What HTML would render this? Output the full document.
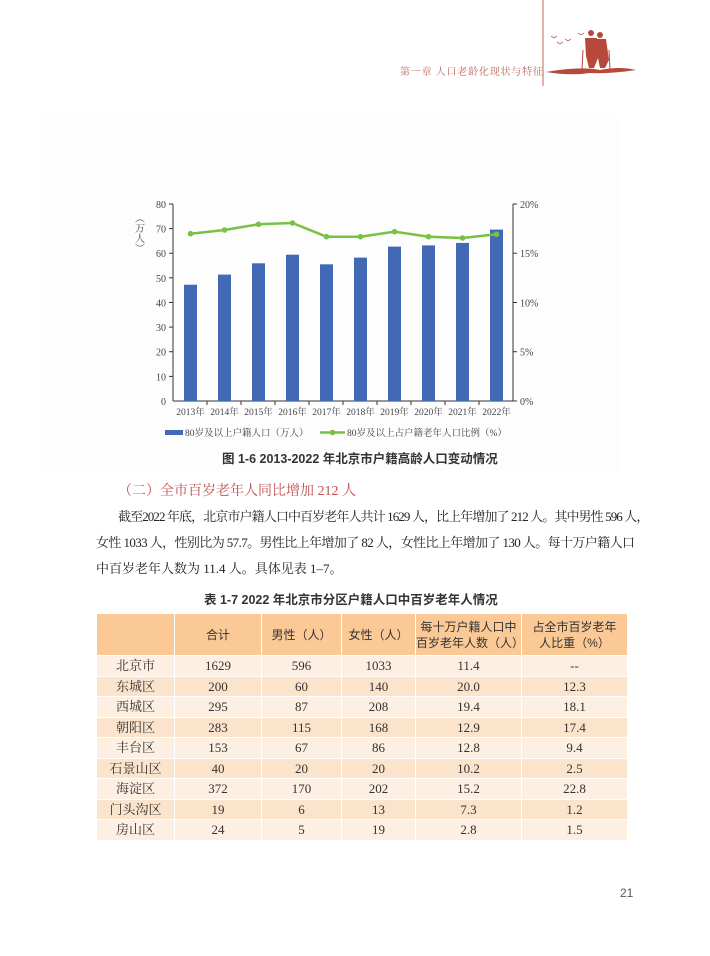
<!DOCTYPE html>
<html><head><meta charset="utf-8"><style>
body{margin:0;width:710px;height:956px;background:#fff;position:relative;overflow:hidden;font-family:"Liberation Serif","Noto Serif CJK SC",serif;}
.abs{position:absolute;white-space:nowrap;}
table{position:absolute;left:96px;top:613px;width:531px;border-collapse:collapse;font-size:13px;color:#333;table-layout:fixed;}
td{border:1px solid #fff;text-align:center;padding:0;height:19.5px;line-height:19px;}
tr.h td{background:#fbc996;height:41px;line-height:16px;font-family:"Liberation Sans","Noto Sans CJK SC",sans-serif;font-size:12px;white-space:nowrap;}
tr.a td{background:#fdf0e2;}
tr.b td{background:#fce4cc;}
.p{font-size:13px;color:#222;text-align:justify;text-align-last:justify;white-space:nowrap;letter-spacing:-0.6px;}
</style></head><body>
<svg class="abs" style="left:0;top:0" width="710" height="956">
<line x1="543" y1="0" x2="543" y2="86" stroke="#c0645a" stroke-width="1"/>
<g fill="#b9483c">
<path d="M546 72 Q580 66 600 70 Q620 66 636 70 Q610 74 590 73 Q570 76 546 72Z"/>
<circle cx="591" cy="33" r="3"/><circle cx="600" cy="35" r="3"/>
<path d="M585 38 L597 38 L598 58 L594 68 L589 68 L586 56Z"/>
<path d="M596 39 L606 39 L609 60 L605 68 L600 68 L598 58Z"/>
<line x1="583" y1="50" x2="582" y2="70" stroke="#b9483c"/><line x1="609" y1="50" x2="610" y2="70" stroke="#b9483c"/>
</g>
<g stroke="#c0645a" fill="none" stroke-width="0.8">
<path d="M551 36 l3 2 l3 -2"/><path d="M557 42 l3 2 l3 -2"/><path d="M565 39 l3 2 l3 -2"/><path d="M578 33 l3 2 l3 -2"/>
</g>
<text x="400" y="75" font-size="10" fill="#c0645a" font-family="Liberation Serif,Noto Serif CJK SC,serif" letter-spacing="0.8">第一章  人口老龄化现状与特征</text>
<rect x="40" y="118" width="580" height="352" fill="#fdfdfd"/>
<g font-family="Liberation Serif,Noto Serif CJK SC,serif" font-size="10" fill="#444">
<line x1="173" y1="204" x2="173" y2="401" stroke="#333"/>
<line x1="513" y1="204" x2="513" y2="401" stroke="#333"/>
<line x1="173" y1="401" x2="513" y2="401" stroke="#333"/>
<g stroke="#333">
<line x1="169" y1="204" x2="173" y2="204"/><line x1="169" y1="228.6" x2="173" y2="228.6"/><line x1="169" y1="253.2" x2="173" y2="253.2"/><line x1="169" y1="277.8" x2="173" y2="277.8"/><line x1="169" y1="302.5" x2="173" y2="302.5"/><line x1="169" y1="327.1" x2="173" y2="327.1"/><line x1="169" y1="351.7" x2="173" y2="351.7"/><line x1="169" y1="376.4" x2="173" y2="376.4"/>
<line x1="513" y1="204" x2="517" y2="204"/><line x1="513" y1="253.2" x2="517" y2="253.2"/><line x1="513" y1="302.5" x2="517" y2="302.5"/><line x1="513" y1="351.7" x2="517" y2="351.7"/><line x1="513" y1="401" x2="517" y2="401"/>
<line x1="207" y1="401" x2="207" y2="405"/><line x1="241" y1="401" x2="241" y2="405"/><line x1="275" y1="401" x2="275" y2="405"/><line x1="309" y1="401" x2="309" y2="405"/><line x1="343" y1="401" x2="343" y2="405"/><line x1="377" y1="401" x2="377" y2="405"/><line x1="411" y1="401" x2="411" y2="405"/><line x1="445" y1="401" x2="445" y2="405"/><line x1="479" y1="401" x2="479" y2="405"/>
</g>
<g text-anchor="end">
<text x="166" y="208">80</text><text x="166" y="232.6">70</text><text x="166" y="257.2">60</text><text x="166" y="281.8">50</text><text x="166" y="306.5">40</text><text x="166" y="331.1">30</text><text x="166" y="355.7">20</text><text x="166" y="380.4">10</text><text x="166" y="405">0</text>
</g>
<text x="520" y="208">20%</text><text x="520" y="257.2">15%</text><text x="520" y="306.5">10%</text><text x="520" y="355.7">5%</text><text x="520" y="405">0%</text>
<text x="138" y="213" font-size="10" writing-mode="tb">（万人）</text>
<g fill="#4169b5">
<rect x="184" y="284.7" width="13" height="116.3"/>
<rect x="218" y="274.6" width="13" height="126.4"/>
<rect x="252" y="263.3" width="13" height="137.7"/>
<rect x="286" y="254.7" width="13" height="146.3"/>
<rect x="320" y="264.3" width="13" height="136.7"/>
<rect x="354" y="257.6" width="13" height="143.4"/>
<rect x="388" y="246.6" width="13" height="154.4"/>
<rect x="422" y="245.4" width="13" height="155.6"/>
<rect x="456" y="242.9" width="13" height="158.1"/>
<rect x="490" y="229.6" width="13" height="171.4"/>
</g>
<polyline fill="none" stroke="#7ac143" stroke-width="2.5" points="190.5,233.7 224.5,230 258.5,224.3 292.5,223 326.5,236.7 360.5,236.7 394.5,231.7 428.5,236.7 462.5,238 496.5,234.3"/>
<g fill="#7ac143"><circle cx="190.5" cy="233.7" r="2.8"/><circle cx="224.5" cy="230" r="2.8"/><circle cx="258.5" cy="224.3" r="2.8"/><circle cx="292.5" cy="223" r="2.8"/><circle cx="326.5" cy="236.7" r="2.8"/><circle cx="360.5" cy="236.7" r="2.8"/><circle cx="394.5" cy="231.7" r="2.8"/><circle cx="428.5" cy="236.7" r="2.8"/><circle cx="462.5" cy="238" r="2.8"/><circle cx="496.5" cy="234.3" r="2.8"/></g>
<g text-anchor="middle" font-size="9.5">
<text x="190.5" y="415">2013年</text><text x="224.5" y="415">2014年</text><text x="258.5" y="415">2015年</text><text x="292.5" y="415">2016年</text><text x="326.5" y="415">2017年</text><text x="360.5" y="415">2018年</text><text x="394.5" y="415">2019年</text><text x="428.5" y="415">2020年</text><text x="462.5" y="415">2021年</text><text x="496.5" y="415">2022年</text>
</g>
<rect x="165" y="430" width="18" height="5" fill="#4169b5"/>
<text x="185" y="436" font-size="9.5">80岁及以上户籍人口（万人）</text>
<line x1="320" y1="432.5" x2="345" y2="432.5" stroke="#7ac143" stroke-width="2.5"/><circle cx="332.5" cy="432.5" r="2.8" fill="#7ac143"/>
<text x="347" y="436" font-size="9.5">80岁及以上占户籍老年人口比例（%）</text>
</g>
<text x="222" y="463" font-size="12.5" font-weight="bold" fill="#333" font-family="Liberation Sans,Noto Sans CJK SC,sans-serif">图 1-6   2013-2022 年北京市户籍高龄人口变动情况</text>
<text x="204" y="604" font-size="12.5" font-weight="bold" fill="#333" font-family="Liberation Sans,Noto Sans CJK SC,sans-serif">表 1-7    2022 年北京市分区户籍人口中百岁老年人情况</text>
<text x="620" y="897" font-size="12" fill="#555" font-family="Liberation Sans,sans-serif">21</text>
</svg>
<div class="abs" style="left:118px;top:480px;font-size:14px;color:#c0504d;">（二）全市百岁老年人同比增加 212 人</div>
<div class="abs p" style="left:118px;top:506px;width:509px;letter-spacing:-0.9px;">截至2022 年底，北京市户籍人口中百岁老年人共计 1629 人，比上年增加了 212 人。其中男性 596 人，</div>
<div class="abs p" style="left:96px;top:532px;width:531px;">女性 1033 人，性别比为 57.7。男性比上年增加了 82 人，女性比上年增加了 130 人。每十万户籍人口</div>
<div class="abs" style="left:96px;top:558px;font-size:13px;color:#222;">中百岁老年人数为 11.4 人。具体见表 1–7。</div>
<table>
<colgroup><col style="width:78px"><col style="width:87px"><col style="width:80px"><col style="width:74px"><col style="width:106px"><col style="width:106px"></colgroup>
<tr class="h"><td></td><td>合计</td><td>男性（人）</td><td>女性（人）</td><td>每十万户籍人口中<br>百岁老年人数（人）</td><td>占全市百岁老年<br>人比重（%）</td></tr>
<tr class="a"><td>北京市</td><td>1629</td><td>596</td><td>1033</td><td>11.4</td><td>--</td></tr>
<tr class="b"><td>东城区</td><td>200</td><td>60</td><td>140</td><td>20.0</td><td>12.3</td></tr>
<tr class="a"><td>西城区</td><td>295</td><td>87</td><td>208</td><td>19.4</td><td>18.1</td></tr>
<tr class="b"><td>朝阳区</td><td>283</td><td>115</td><td>168</td><td>12.9</td><td>17.4</td></tr>
<tr class="a"><td>丰台区</td><td>153</td><td>67</td><td>86</td><td>12.8</td><td>9.4</td></tr>
<tr class="b"><td>石景山区</td><td>40</td><td>20</td><td>20</td><td>10.2</td><td>2.5</td></tr>
<tr class="a"><td>海淀区</td><td>372</td><td>170</td><td>202</td><td>15.2</td><td>22.8</td></tr>
<tr class="b"><td>门头沟区</td><td>19</td><td>6</td><td>13</td><td>7.3</td><td>1.2</td></tr>
<tr class="a"><td>房山区</td><td>24</td><td>5</td><td>19</td><td>2.8</td><td>1.5</td></tr>
</table>
</body></html>
